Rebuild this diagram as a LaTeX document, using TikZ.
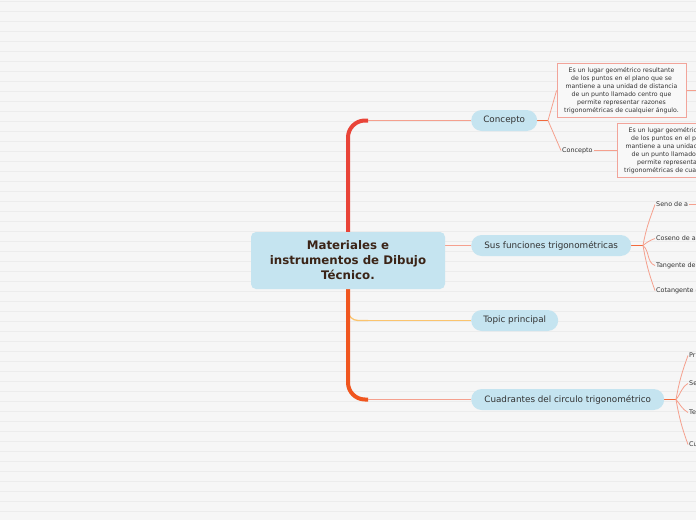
\documentclass[tikz,border=0pt]{standalone}
\usepackage{fontspec}
\setmainfont{DejaVu Sans}
\pgfdeclarelayer{bg}
\pgfdeclarelayer{lines}
\pgfsetlayers{bg,lines,main}
\definecolor{bgc}{HTML}{F6F6F6}
\definecolor{stripec}{HTML}{ECECEC}
\definecolor{pillc}{HTML}{C5E4F0}
\definecolor{rootc}{HTML}{C5E4F0}
\definecolor{roottext}{HTML}{3B2417}
\definecolor{txt}{HTML}{333333}
\definecolor{trunkred}{HTML}{E94438}
\definecolor{trunkorange}{HTML}{F0561F}
\definecolor{linkpink}{HTML}{F5A08E}
\definecolor{salmonb}{HTML}{F2A49A}
\definecolor{topicy}{HTML}{FBC46E}
\definecolor{forkc}{HTML}{F26A3C}
\definecolor{boxfill}{HTML}{F8F8F8}
\tikzset{
  rootbox/.style={fill=rootc, rounded corners=5pt, minimum width=194pt, minimum height=57pt,
    align=center, text=roottext, font=\bfseries\fontsize{11.8}{15}\selectfont, inner sep=0pt},
  pill/.style={fill=pillc, rounded corners=10.5pt, minimum height=21pt, anchor=west,
    text=txt, font=\fontsize{8.8}{10}\selectfont, inner sep=0pt},
  notebox/.style={draw=salmonb, line width=0.9pt, fill=boxfill, minimum width=129pt, minimum height=54pt,
    align=center, text=txt, font=\fontsize{6.2}{7.9}\selectfont, inner sep=0pt},
  leaf/.style={anchor=west, text=txt, font=\fontsize{6.4}{7}\selectfont, inner sep=1pt},
  thin/.style={draw=linkpink, line width=0.8pt},
  link/.style={draw=linkpink, line width=1.1pt},
  fork/.style={draw=forkc, line width=1.8pt},
}
\begin{document}
\begin{tikzpicture}[x=1pt,y=-1pt]
\useasboundingbox (0,0) rectangle (696,520);
\clip (0,0) rectangle (696,520);
\begin{pgfonlayer}{bg}
\fill[bgc] (0,0) rectangle (696,520);
\foreach \i in {0,...,51} \draw[stripec, line width=0.9pt] (0,1.5+10*\i) -- (696,1.5+10*\i);
\end{pgfonlayer}

% nodes
\node[rootbox] (root) at (348,260.5) {Materiales e\\instrumentos de Dibujo\\Técnico.};
\node[pill, minimum width=66pt] (c1) at (471,120.5) {Concepto};
\node[pill, minimum width=160pt] (c2) at (471,245.5) {Sus funciones trigonométricas};
\node[pill, minimum width=87pt] (c3) at (471,320.5) {Topic principal};
\node[pill, minimum width=193pt] (c4) at (471,399.5) {Cuadrantes del circulo trigonométrico};

\node[notebox] (b1) at (621.5,90.5) {Es un lugar geométrico resultante\\de los puntos en el plano que se\\mantiene a una unidad de distancia\\de un punto llamado centro que\\permite representar razones\\trigonométricas de cualquier ángulo.};
\node[leaf] (cc) at (561,150.5) {Concepto};
\node[notebox] (b2) at (681.5,150.5) {Es un lugar geométrico resultante\\de los puntos en el plano que se\\mantiene a una unidad de distancia\\de un punto llamado centro que\\permite representar razones\\trigonométricas de cualquier ángulo.};

\node[leaf] (s1) at (655,204.5) {Seno de a};
\node[leaf] (s2) at (655,238.5) {Coseno de a};
\node[leaf] (s3) at (655,265.5) {Tangente de a};
\node[leaf] (s4) at (655,290.5) {Cotangente de a};

\node[leaf] (q1) at (688,355.5) {Primer cuadrante};
\node[leaf] (q2) at (688,383.5) {Segundo cuadrante};
\node[leaf] (q3) at (688,412.5) {Tercer cuadrante};
\node[leaf] (q4) at (688,444.5) {Cuarto cuadrante};

% coordinates
\coordinate (k1) at (368,120.5);
\coordinate (k3) at (368,320.5);
\coordinate (k4) at (368,399.5);
\coordinate (f1) at (548,120.5);
\coordinate (f2) at (643,245.5);
\coordinate (f4) at (676,399.5);
\coordinate (e1) at (700,90.5);
\coordinate (e2) at (700,204.5);

\begin{pgfonlayer}{lines}
% trunk
\draw[trunkred, line width=4pt, rounded corners=17pt] (root.center) |- (k1);
\draw[topicy, line width=1.3pt, rounded corners=10pt] (348,300) |- (k3);
\draw[trunkorange, line width=4pt, rounded corners=17pt] (root.center) |- (k4);
\draw[link] (k1) -- (c1.west);
\draw[topicy, line width=1.1pt] (k3) -- (c3.west);
\draw[link] (k4) -- (c4.west);
\draw[link] (root.east |- c2.west) -- (c2.west);

% Concepto branch
\draw[fork] (c1.east) -- (f1);
\draw[thin] (f1) -- (b1.west);
\draw[thin] (f1) -- (cc.west);
\draw[thin] (cc.east) -- (b2.west);
\draw[thin] (b1.east) -- (e1);

% funciones branch
\draw[fork] (c2.east) -- (f2);
\draw[thin] (f2) to[out=80,in=250] (s1.west);
\draw[thin] (f2) to[out=40,in=200] (s2.west);
\draw[thin] (f2) to[out=-40,in=160] (s3.west);
\draw[thin] (f2) to[out=-80,in=110] (s4.west);
\draw[thin] (s1.east) -- (e2);

% cuadrantes branch
\draw[fork] (c4.east) -- (f4);
\draw[thin] (f4) to[out=80,in=250] (q1.west);
\draw[thin] (f4) to[out=50,in=210] (q2.west);
\draw[thin] (f4) to[out=-50,in=150] (q3.west);
\draw[thin] (f4) to[out=-80,in=110] (q4.west);
\end{pgfonlayer}
\end{tikzpicture}
\end{document}
